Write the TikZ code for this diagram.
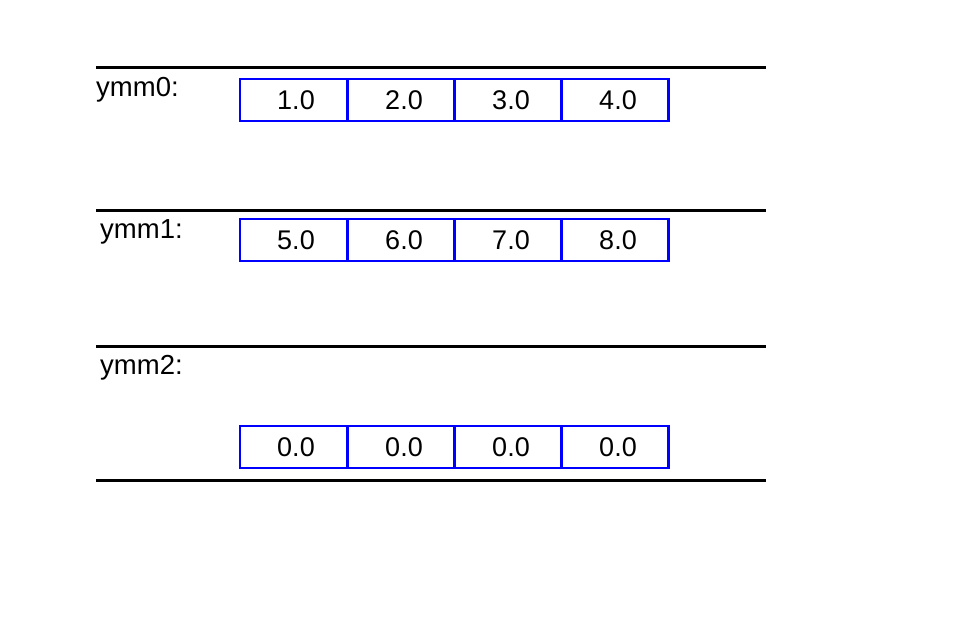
\documentclass[tikz,border=0pt]{standalone}
\usepackage{fontspec}
\setmainfont{Liberation Sans}
\begin{document}
\begin{tikzpicture}[x=1pt,y=-1pt,
  sep/.style={line width=3pt,black},
  cell/.style={draw=blue,line width=2.5pt,minimum width=107pt,minimum height=42pt,inner sep=0pt,outer sep=0pt,anchor=north west,font=\fontsize{27}{32}\selectfont},
  lbl/.style={anchor=west,inner sep=0pt,font=\fontsize{27.5}{32}\selectfont}]
\useasboundingbox (0,0) rectangle (960,640);
% separator lines
\foreach \n/\y in {a/67,b/210,c/346,d/480}{
  \coordinate (\n1) at (96,\y);
  \coordinate (\n2) at (766,\y);
  \draw[sep] (\n1) -- (\n2);
}
% labels
\node[lbl] (l0) at (96,90) {ymm0:};
\node[lbl] (l1) at (100,232) {ymm1:};
\node[lbl] (l2) at (100,368) {ymm2:};
% cells
\foreach \r/\y/\a/\b/\c/\d in {0/79/1.0/2.0/3.0/4.0, 1/219/5.0/6.0/7.0/8.0, 2/426/0.0/0.0/0.0/0.0}{
  \node[cell] (c\r a) at (240,\y) {\hspace{5pt}\a};
  \node[cell] (c\r b) at (347.5,\y) {\hspace{6pt}\b};
  \node[cell] (c\r c) at (454.5,\y) {\hspace{6pt}\c};
  \node[cell] (c\r d) at (561.5,\y) {\hspace{6pt}\d};
}
\end{tikzpicture}
\end{document}
